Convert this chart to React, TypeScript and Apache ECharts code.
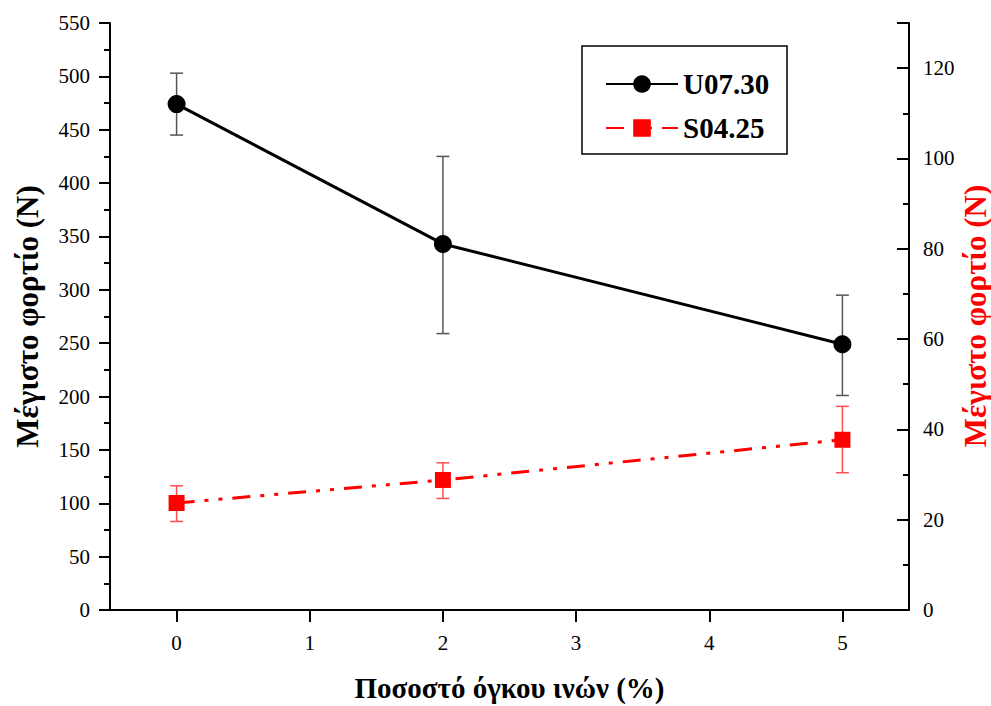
import React, { useEffect, useRef } from "react";
import * as echarts from "echarts";

const categories = ["0", "1", "2", "3", "4", "5"];
const uX = [0, 2, 5];
const uMean = [474, 343, 249];
const uLow = [445, 259, 201];
const uHigh = [503, 425, 295];
const sX = [0, 2, 5];
const sMean = [23.7, 28.8, 37.7];
const sLow = [19.6, 24.7, 30.4];
const sHigh = [27.5, 32.6, 45.1];

const FONT = "Liberation Serif";
const Y_TITLE = "Μέγιστο φορτίο (N)";

function errRender(color: string) {
  return (params: any, api: any) => {
    const x = api.value(0);
    const top = api.coord([x, api.value(2)]);
    const bot = api.coord([x, api.value(1)]);
    const w = 6.5;
    const style = { stroke: color, lineWidth: 1.5 };
    return {
      type: "group",
      children: [
        { type: "line", shape: { x1: top[0], y1: top[1], x2: bot[0], y2: bot[1] }, style },
        { type: "line", shape: { x1: top[0] - w, y1: top[1], x2: top[0] + w, y2: top[1] }, style },
        { type: "line", shape: { x1: bot[0] - w, y1: bot[1], x2: bot[0] + w, y2: bot[1] }, style },
      ],
    };
  };
}

export default function App() {
  const ref = useRef<HTMLDivElement>(null);
  useEffect(() => {
    if (!ref.current) return;
    const chart = echarts.init(ref.current, null, { renderer: "svg" });
    const axisLine = { show: true, lineStyle: { color: "#000", width: 2 } };
    const labelStyle = { color: "#000", fontFamily: FONT, fontSize: 21 };
    chart.setOption({
      animation: false,
      backgroundColor: "#fff",
      textStyle: { fontFamily: FONT },
      grid: { left: 110, right: 82, top: 23, bottom: 96, containLabel: false, outerBoundsMode: "none" },
      xAxis: [
        {
          type: "category",
          data: categories,
          boundaryGap: true,
          position: "bottom",
          axisLine,
          axisTick: { show: true, alignWithLabel: true, length: 12, inside: false, lineStyle: { color: "#000", width: 2 } },
          axisLabel: { ...labelStyle, margin: 22 },
          splitLine: { show: false },
          name: "Ποσοστό όγκου ινών (%)",
          nameLocation: "middle",
          nameGap: 63,
          nameTextStyle: { color: "#000", fontFamily: FONT, fontSize: 29, fontWeight: "bold", lineHeight: 30 },
        },
        {
          type: "category",
          data: categories,
          boundaryGap: true,
          position: "top",
          axisLine,
          axisTick: { show: true, alignWithLabel: true, length: 12, inside: true, lineStyle: { color: "#000", width: 2 } },
          axisLabel: { show: false },
          splitLine: { show: false },
        },
      ],
      yAxis: [
        {
          type: "value",
          min: 0,
          max: 550,
          interval: 50,
          position: "left",
          axisLine,
          axisTick: { show: true, length: 11, inside: false, lineStyle: { color: "#000", width: 2 } },
          minorTick: { show: true, splitNumber: 2, length: 6, lineStyle: { color: "#000", width: 2 } },
          axisLabel: { ...labelStyle, margin: 20 },
          splitLine: { show: false },
          name: Y_TITLE,
          nameLocation: "middle",
          nameGap: 67,
          nameTextStyle: { color: "#000", fontFamily: FONT, fontSize: 31, fontWeight: "bold" },
        },
        {
          type: "value",
          min: 0,
          max: 130,
          interval: 20,
          position: "right",
          axisLine,
          axisTick: { show: true, length: 12, inside: true, lineStyle: { color: "#000", width: 2 } },
          axisLabel: { ...labelStyle, margin: 14, formatter: (v: number) => (v > 120 ? "" : String(v)) },
          splitLine: { show: false },
        },
        {
          type: "value",
          min: 0,
          max: 130,
          interval: 10,
          position: "right",
          axisLine: { show: false },
          axisTick: { show: true, length: 6, inside: true, lineStyle: { color: "#000", width: 2 } },
          axisLabel: { show: false },
          splitLine: { show: false },
        },
      ],
      legend: {
        data: ["U07.30", "S04.25"],
        orient: "vertical",
        left: 600,
        top: 64,
        itemWidth: 72,
        itemHeight: 22,
        itemGap: 14,
        itemTextGap: 6,
        textStyle: { color: "#000", fontFamily: FONT, fontSize: 29, fontWeight: "bold", lineHeight: 30 },
      },
      graphic: [
        {
          type: "rect",
          shape: { x: 582, y: 46, width: 205, height: 108 },
          style: { fill: "none", stroke: "#000", lineWidth: 1.5 },
          z: 10,
        },
        {
          type: "text",
          x: 975,
          y: 316,
          rotation: Math.PI / 2,
          style: {
            text: Y_TITLE,
            fill: "#ff0000",
            fontFamily: FONT,
            fontSize: 31,
            fontWeight: "bold",
            align: "center",
            verticalAlign: "middle",
          },
          z: 10,
        },
      ],
      series: [
        {
          type: "custom",
          name: "U07.30 err",
          xAxisIndex: 0,
          yAxisIndex: 0,
          z: 1,
          renderItem: errRender("#555"),
          encode: { x: 0, y: [1, 2] },
          data: uX.map((x, i) => [x, uLow[i], uHigh[i]]),
        },
        {
          type: "custom",
          name: "S04.25 err",
          xAxisIndex: 0,
          yAxisIndex: 1,
          z: 1,
          renderItem: errRender("#ff5050"),
          encode: { x: 0, y: [1, 2] },
          data: sX.map((x, i) => [x, sLow[i], sHigh[i]]),
        },
        {
          type: "line",
          name: "U07.30",
          xAxisIndex: 0,
          yAxisIndex: 0,
          z: 3,
          symbol: "circle",
          symbolSize: 18,
          itemStyle: { color: "#000" },
          lineStyle: { color: "#000", width: 3 },
          data: uX.map((x, i) => [x, uMean[i]]),
        },
        {
          type: "line",
          name: "S04.25",
          xAxisIndex: 0,
          yAxisIndex: 1,
          z: 3,
          symbol: "rect",
          symbolSize: 16,
          itemStyle: { color: "#ff0000" },
          lineStyle: { color: "#ff0000", width: 3, type: [18, 10, 4, 10, 4, 10] },
          data: sX.map((x, i) => [x, sMean[i]]),
        },
      ],
    });
    return () => chart.dispose();
  }, []);
  return <div ref={ref} style={{ width: 991, height: 706, position: "absolute", left: 0, top: 0 }} />;
}
